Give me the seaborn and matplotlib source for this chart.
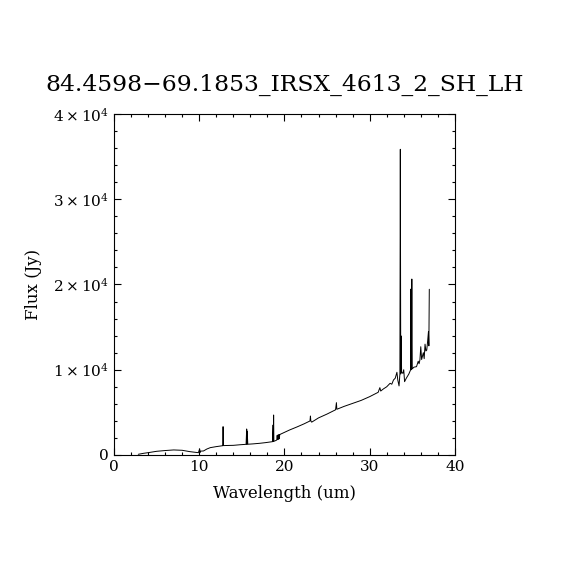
import matplotlib
matplotlib.use("Agg")
import matplotlib.pyplot as plt
import seaborn as sns
import pandas as pd
from matplotlib.ticker import MultipleLocator, FixedLocator

title = "84.4598\u221269.1853_IRSX_4613_2_SH_LH"
xlabel = "Wavelength (um)"
ylabel = "Flux (Jy)"

wavelength = [2.85, 3.5, 4.0, 5.0, 6.0, 7.0, 8.0, 8.9, 9.9, 10.05, 10.1, 10.15,
              10.5, 10.9, 11.3, 12.0, 12.77, 12.8, 12.83, 13.5, 14.0, 14.8,
              15.5, 15.57, 15.6, 15.63, 15.7, 16.3, 17.1, 17.8, 18.3, 18.6,
              18.67, 18.7, 18.73, 18.76, 19.0, 19.1, 19.15, 19.2, 19.25, 19.3,
              19.35, 19.4, 19.45, 19.5, 20.6, 21.5, 22.3, 23.0, 23.05, 23.1,
              23.2, 24.0, 25.0, 26.0, 26.1, 26.15, 27.0, 28.0, 29.0, 30.0,
              30.8, 31.0, 31.2, 31.3, 31.6, 32.0, 32.4, 32.6, 32.8, 33.0,
              33.2, 33.3, 33.45, 33.55, 33.6, 33.65, 33.7, 33.75, 33.9, 34.0,
              34.1, 34.3, 34.6, 34.8, 34.85, 34.9, 34.95, 35.0, 35.2, 35.5,
              35.7, 35.8, 35.9, 36.0, 36.1, 36.3, 36.4, 36.5, 36.6, 36.7,
              36.8, 36.9, 36.95, 37.0]
flux = [80, 200, 270, 430, 520, 590, 550, 390, 270, 700, 300, 450,
        470, 700, 860, 980, 1090, 3320, 1100, 1120, 1130, 1200,
        1250, 3050, 1250, 2800, 1260, 1300, 1370, 1450, 1520, 1560,
        3520, 1580, 4690, 1600, 1700, 1760, 2300, 1800, 2350, 1850,
        2380, 1900, 2400, 2420, 2930, 3300, 3650, 3990, 4570, 3990,
        3850, 4350, 4800, 5300, 6140, 5360, 5700, 6050, 6400, 6840,
        7250, 7350, 7900, 7500, 7740, 8000, 8410, 8300, 8800, 9000,
        9700, 8800, 8100, 9500, 35860, 9500, 13960, 9700, 9580, 10000,
        8600, 9000, 9500, 9970, 19470, 10000, 20640, 10100, 10300, 10360,
        11000, 10700, 11150, 12700, 11200, 12000, 11300, 13000, 12200, 12300,
        13290, 14460, 12800, 19440]

df = pd.DataFrame({"wavelength": wavelength, "flux": flux})

sns.set_theme(style="ticks")
plt.rcParams["font.family"] = ["DejaVu Serif"]
plt.rcParams["mathtext.fontset"] = "dejavuserif"

fig = plt.figure(figsize=(5.7, 5.7), dpi=100)
ax = fig.add_axes([0.2, 0.2018, 0.598, 0.5982])
sns.lineplot(data=df, x="wavelength", y="flux", sort=False, estimator=None,
             color="black", linewidth=0.7, ax=ax)

ax.set_xlim(0, 40)
ax.set_ylim(0, 40000)
ax.xaxis.set_major_locator(MultipleLocator(10))
ax.xaxis.set_minor_locator(MultipleLocator(2))
ax.yaxis.set_major_locator(FixedLocator([0, 10000, 20000, 30000, 40000]))
ax.yaxis.set_minor_locator(MultipleLocator(2000))
ax.set_yticklabels(["0", r"$1\times10^{4}$", r"$2\times10^{4}$",
                    r"$3\times10^{4}$", r"$4\times10^{4}$"])
ax.tick_params(which="both", direction="in", top=True, right=True,
               colors="black", labelsize=11, width=0.8)
ax.tick_params(which="major", length=5)
ax.tick_params(which="minor", length=2.5)
for s in ax.spines.values():
    s.set_color("black")
    s.set_linewidth(0.8)

ax.set_xlabel(xlabel, fontsize=12, color="black", labelpad=8)
ax.set_ylabel(ylabel, fontsize=12, color="black", labelpad=8)
ax.set_title(title, fontsize=16.8, color="black", pad=17)

fig.savefig("out.png", dpi=100, facecolor="white")
